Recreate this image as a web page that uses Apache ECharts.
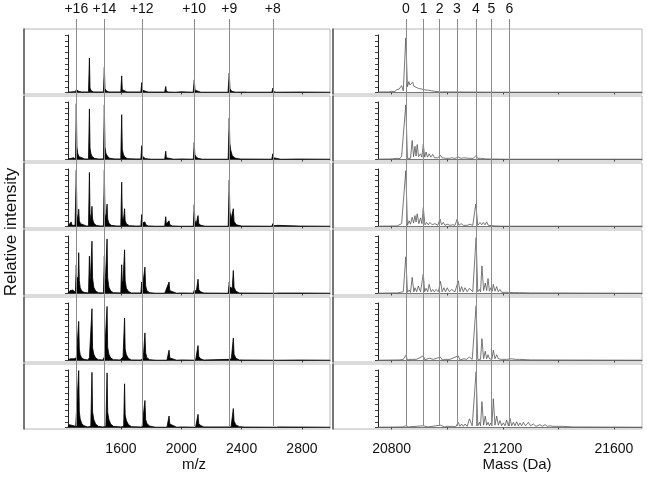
<!DOCTYPE html>
<html><head><meta charset="utf-8">
<script src="https://cdn.jsdelivr.net/npm/echarts@6/dist/echarts.min.js"></script>
<style>html,body{margin:0;padding:0;background:#fff}#c{width:647px;height:480px}</style>
</head><body><div id="c"></div>
<script>
// ---------- annotation / axis data ----------
const chargeLabels = ['+16', '+14', '+12', '+10', '+9', '+8'];
const chargeMz = [1304, 1490, 1738, 2086, 2318, 2607];
const massLabels = ['0', '1', '2', '3', '4', '5', '6'];
const massDa = [20851, 20915, 20973, 21035, 21103, 21159, 21224];
const mzTicks = [1600, 2000, 2400, 2800];
const mzTickLabels = [1600, 2000, 2400, 2800];
const massTicks = [20800, 21000, 21200, 21400, 21600];
const massTickLabels = [20800, 21200, 21600];
const mzRange = [1249, 2986];
const massRange = [20751, 21701];

// ---------- m/z spectra (left column, rows 1..6) ----------
const mzSpectrum1 = [[1249,0.01],[1262,0.02],[1268,0.01],[1278,0.03],[1284,0.015],[1292,0.03],[1298,0.015],[1304,0.05],[1310,0.02],[1320,0.02],[1340,0.01],[1385,0.01],[1391,0.6],[1395,0.08],[1402,0.03],[1420,0.01],[1484,0.01],[1490,0.44],[1494,0.07],[1502,0.03],[1520,0.01],[1599,0.01],[1605,0.29],[1609,0.05],[1617,0.02],[1640,0.01],[1732,0.01],[1738,0.175],[1742,0.04],[1752,0.015],[1780,0.008],[1890,0.008],[1897,0.105],[1901,0.02],[1915,0.008],[1960,0.005],[2000,0.012],[2005,0.005],[2079,0.005],[2086,0.22],[2091,0.04],[2102,0.015],[2130,0.005],[2310,0.005],[2318,0.34],[2323,0.06],[2335,0.02],[2360,0.006],[2420,0.008],[2440,0.005],[2600,0.005],[2607,0.076],[2613,0.015],[2630,0.005],[2780,0.008],[2986,0.005]];
const mzSpectrum2 = [[1249,0.01],[1270,0.02],[1285,0.03],[1295,0.02],[1299,0.01],[1304,0.97],[1308,0.22],[1314,0.1],[1322,0.05],[1335,0.02],[1360,0.01],[1385,0.01],[1391,0.88],[1395,0.2],[1401,0.1],[1410,0.05],[1425,0.02],[1450,0.01],[1484,0.01],[1490,0.95],[1494,0.22],[1500,0.11],[1510,0.06],[1525,0.02],[1560,0.01],[1599,0.01],[1605,0.78],[1609,0.18],[1616,0.09],[1626,0.04],[1645,0.015],[1700,0.01],[1732,0.01],[1738,0.24],[1742,0.07],[1750,0.035],[1765,0.015],[1800,0.005],[1890,0.005],[1897,0.145],[1901,0.03],[1912,0.01],[1950,0.005],[2000,0.01],[2080,0.005],[2086,0.3],[2090,0.09],[2098,0.045],[2112,0.02],[2140,0.005],[2311,0.005],[2318,0.72],[2322,0.28],[2328,0.16],[2338,0.07],[2355,0.025],[2390,0.008],[2420,0.008],[2600,0.005],[2607,0.1],[2612,0.03],[2625,0.01],[2660,0.004],[2780,0.008],[2986,0.005]];
const mzSpectrum3 = [[1249,0.01],[1262,0.03],[1270,0.08],[1276,0.02],[1285,0.04],[1296,0.02],[1304,0.98],[1308,0.22],[1314,0.1],[1320,0.3],[1324,0.1],[1332,0.05],[1345,0.02],[1370,0.01],[1385,0.01],[1391,0.94],[1395,0.22],[1401,0.12],[1408,0.35],[1412,0.13],[1420,0.06],[1435,0.02],[1460,0.01],[1484,0.01],[1490,0.98],[1494,0.23],[1500,0.12],[1508,0.39],[1512,0.13],[1520,0.06],[1535,0.02],[1570,0.01],[1599,0.01],[1605,0.77],[1609,0.18],[1616,0.1],[1624,0.31],[1628,0.1],[1637,0.045],[1655,0.015],[1700,0.008],[1732,0.01],[1738,0.21],[1742,0.06],[1750,0.035],[1759,0.08],[1765,0.03],[1780,0.01],[1830,0.005],[1890,0.005],[1897,0.17],[1901,0.045],[1910,0.03],[1919,0.1],[1924,0.03],[1940,0.01],[1990,0.005],[2000,0.01],[2080,0.005],[2086,0.38],[2090,0.11],[2099,0.05],[2111,0.19],[2116,0.05],[2130,0.02],[2160,0.005],[2311,0.005],[2318,0.81],[2322,0.27],[2330,0.13],[2345,0.31],[2350,0.09],[2365,0.03],[2400,0.008],[2420,0.008],[2600,0.005],[2607,0.05],[2612,0.015],[2638,0.02],[2645,0.005],[2780,0.008],[2986,0.005]];
const mzSpectrum4 = [[1249,0.01],[1262,0.05],[1268,0.02],[1280,0.06],[1290,0.03],[1298,0.02],[1304,0.5],[1307,0.2],[1312,0.28],[1316,0.22],[1320,0.71],[1324,0.22],[1330,0.1],[1340,0.045],[1355,0.02],[1385,0.01],[1391,0.65],[1394,0.22],[1398,0.28],[1403,0.25],[1408,0.91],[1412,0.27],[1420,0.11],[1432,0.045],[1450,0.015],[1484,0.01],[1490,0.65],[1494,0.22],[1498,0.28],[1503,0.27],[1508,0.95],[1512,0.27],[1520,0.11],[1532,0.045],[1550,0.015],[1599,0.01],[1605,0.5],[1609,0.18],[1614,0.22],[1619,0.2],[1624,0.76],[1628,0.22],[1636,0.09],[1650,0.035],[1670,0.01],[1732,0.01],[1738,0.2],[1742,0.09],[1748,0.11],[1754,0.09],[1759,0.46],[1764,0.13],[1772,0.05],[1790,0.015],[1830,0.005],[1890,0.005],[1897,0.05],[1903,0.03],[1910,0.04],[1919,0.2],[1924,0.05],[1935,0.02],[1970,0.005],[2000,0.01],[2080,0.005],[2086,0.06],[2092,0.03],[2100,0.04],[2111,0.25],[2116,0.07],[2128,0.03],[2150,0.008],[2311,0.005],[2318,0.2],[2322,0.11],[2330,0.09],[2338,0.09],[2345,0.4],[2350,0.11],[2362,0.04],[2385,0.01],[2420,0.008],[2630,0.005],[2638,0.03],[2645,0.008],[2780,0.008],[2986,0.005]];
const mzSpectrum5 = [[1249,0.01],[1265,0.03],[1275,0.04],[1290,0.03],[1304,0.05],[1310,0.03],[1320,0.68],[1324,0.2],[1330,0.1],[1340,0.045],[1355,0.02],[1380,0.01],[1391,0.05],[1398,0.03],[1408,0.9],[1412,0.22],[1420,0.11],[1432,0.045],[1450,0.015],[1480,0.01],[1490,0.06],[1498,0.04],[1508,0.94],[1512,0.23],[1520,0.11],[1532,0.045],[1550,0.015],[1595,0.01],[1605,0.04],[1614,0.06],[1624,0.74],[1628,0.2],[1636,0.1],[1650,0.035],[1670,0.01],[1730,0.008],[1738,0.03],[1748,0.04],[1759,0.48],[1764,0.13],[1772,0.05],[1790,0.015],[1830,0.005],[1905,0.005],[1912,0.02],[1919,0.18],[1924,0.045],[1935,0.02],[1970,0.005],[2000,0.01],[2095,0.005],[2104,0.02],[2111,0.26],[2116,0.07],[2128,0.03],[2150,0.008],[2318,0.02],[2332,0.03],[2345,0.39],[2350,0.11],[2362,0.04],[2385,0.01],[2420,0.008],[2630,0.005],[2638,0.02],[2645,0.005],[2780,0.008],[2986,0.005]];
const mzSpectrum6 = [[1249,0.01],[1258,0.05],[1264,0.02],[1272,0.04],[1285,0.03],[1300,0.02],[1310,0.03],[1320,0.99],[1324,0.27],[1330,0.15],[1340,0.07],[1355,0.03],[1380,0.01],[1400,0.02],[1408,0.96],[1412,0.27],[1420,0.14],[1432,0.06],[1450,0.02],[1480,0.01],[1500,0.02],[1508,0.95],[1512,0.27],[1520,0.14],[1532,0.06],[1550,0.02],[1600,0.01],[1618,0.02],[1624,0.76],[1628,0.22],[1636,0.12],[1650,0.05],[1670,0.015],[1740,0.008],[1752,0.015],[1759,0.47],[1764,0.14],[1772,0.07],[1790,0.025],[1830,0.005],[1905,0.005],[1912,0.015],[1919,0.2],[1924,0.06],[1935,0.03],[1970,0.005],[2000,0.01],[2095,0.005],[2104,0.015],[2111,0.23],[2116,0.07],[2128,0.035],[2150,0.01],[2330,0.01],[2345,0.33],[2350,0.11],[2362,0.045],[2385,0.015],[2420,0.008],[2630,0.005],[2638,0.03],[2645,0.01],[2780,0.008],[2986,0.005]];

// ---------- deconvoluted mass spectra (right column, rows 1..6) ----------
const massSpectrum1 = [[20751,0.01],[20790,0.01],[20800,0.02],[20806,0.03],[20812,0.015],[20818,0.05],[20822,0.02],[20827,0.06],[20831,0.03],[20836,0.12],[20842,0.03],[20851,0.95],[20857,0.1],[20862,0.19],[20866,0.13],[20868,0.15],[20872,0.12],[20876,0.18],[20880,0.11],[20884,0.13],[20888,0.09],[20892,0.12],[20897,0.07],[20902,0.09],[20908,0.06],[20914,0.065],[20920,0.045],[20926,0.06],[20932,0.04],[20938,0.05],[20944,0.03],[20950,0.035],[20956,0.02],[20962,0.02],[20975,0.01],[21000,0.01],[21200,0.005],[21701,0.005]];
const massSpectrum2 = [[20751,0.005],[20800,0.01],[20820,0.02],[20830,0.015],[20836,0.06],[20842,0.03],[20851,0.95],[20857,0.02],[20863,0.05],[20868,0.02],[20874,0.33],[20879,0.05],[20884,0.23],[20888,0.06],[20892,0.26],[20897,0.05],[20904,0.1],[20909,0.04],[20914,0.27],[20919,0.04],[20924,0.13],[20929,0.04],[20935,0.1],[20941,0.04],[20948,0.09],[20954,0.03],[20960,0.06],[20966,0.03],[20976,0.07],[20982,0.03],[20988,0.04],[20994,0.02],[21000,0.03],[21008,0.02],[21016,0.03],[21028,0.02],[21040,0.04],[21050,0.02],[21060,0.03],[21080,0.02],[21094,0.02],[21104,0.07],[21110,0.02],[21120,0.02],[21140,0.01],[21200,0.005],[21701,0.005]];
const massSpectrum3 = [[20751,0.005],[20820,0.01],[20836,0.05],[20842,0.02],[20851,0.97],[20857,0.02],[20863,0.1],[20868,0.04],[20874,0.16],[20879,0.06],[20884,0.19],[20888,0.08],[20892,0.22],[20898,0.05],[20904,0.15],[20909,0.05],[20914,0.33],[20920,0.03],[20926,0.07],[20932,0.03],[20938,0.07],[20946,0.03],[20956,0.05],[20966,0.02],[20974,0.13],[20980,0.03],[20986,0.07],[20992,0.02],[21000,0.04],[21010,0.02],[21020,0.03],[21028,0.02],[21036,0.13],[21042,0.02],[21050,0.05],[21058,0.02],[21064,0.03],[21072,0.02],[21082,0.04],[21092,0.02],[21103,0.39],[21110,0.02],[21118,0.07],[21124,0.03],[21130,0.07],[21136,0.03],[21142,0.08],[21148,0.02],[21154,0.02],[21172,0.01],[21200,0.005],[21701,0.005]];
const massSpectrum4 = [[20751,0.005],[20820,0.01],[20842,0.03],[20851,0.64],[20857,0.02],[20863,0.06],[20868,0.02],[20874,0.28],[20880,0.03],[20884,0.1],[20890,0.03],[20896,0.13],[20904,0.03],[20914,0.34],[20919,0.03],[20924,0.09],[20930,0.03],[20935,0.16],[20942,0.03],[20948,0.07],[20954,0.03],[20960,0.07],[20968,0.03],[20976,0.21],[20982,0.03],[20988,0.1],[20994,0.03],[21000,0.1],[21008,0.03],[21016,0.07],[21028,0.03],[21040,0.22],[21046,0.03],[21052,0.12],[21058,0.03],[21064,0.1],[21072,0.03],[21080,0.09],[21092,0.03],[21104,0.97],[21110,0.03],[21116,0.07],[21120,0.03],[21125,0.48],[21131,0.05],[21137,0.18],[21142,0.05],[21147,0.26],[21152,0.04],[21157,0.1],[21162,0.04],[21166,0.16],[21172,0.04],[21178,0.12],[21184,0.03],[21190,0.07],[21196,0.02],[21202,0.05],[21208,0.02],[21214,0.04],[21220,0.02],[21226,0.03],[21240,0.015],[21260,0.015],[21300,0.01],[21701,0.005]];
const massSpectrum5 = [[20751,0.005],[20830,0.01],[20842,0.02],[20851,0.09],[20857,0.01],[20870,0.02],[20890,0.02],[20914,0.08],[20920,0.01],[20935,0.04],[20950,0.02],[20976,0.06],[20982,0.01],[20995,0.02],[21010,0.02],[21040,0.08],[21046,0.01],[21060,0.03],[21070,0.02],[21080,0.06],[21090,0.02],[21104,0.95],[21110,0.02],[21116,0.05],[21120,0.02],[21125,0.38],[21131,0.03],[21137,0.16],[21142,0.03],[21147,0.1],[21152,0.03],[21157,0.06],[21161,0.02],[21166,0.18],[21172,0.03],[21178,0.1],[21184,0.03],[21190,0.05],[21196,0.02],[21202,0.03],[21214,0.02],[21230,0.03],[21245,0.02],[21260,0.02],[21300,0.01],[21701,0.005]];
const massSpectrum6 = [[20751,0.005],[20840,0.01],[20851,0.03],[20860,0.01],[20914,0.03],[20930,0.01],[20976,0.04],[20990,0.01],[21000,0.02],[21020,0.02],[21030,0.01],[21040,0.09],[21046,0.02],[21052,0.06],[21058,0.02],[21064,0.06],[21072,0.02],[21080,0.15],[21090,0.03],[21104,0.97],[21110,0.03],[21116,0.09],[21120,0.03],[21125,0.45],[21131,0.04],[21137,0.2],[21142,0.04],[21147,0.09],[21152,0.03],[21157,0.08],[21161,0.03],[21166,0.5],[21172,0.04],[21178,0.2],[21184,0.04],[21190,0.12],[21196,0.03],[21202,0.08],[21208,0.03],[21214,0.13],[21220,0.03],[21226,0.16],[21232,0.03],[21238,0.09],[21244,0.03],[21250,0.1],[21256,0.03],[21262,0.08],[21268,0.03],[21274,0.09],[21282,0.03],[21292,0.09],[21300,0.03],[21310,0.06],[21320,0.02],[21334,0.05],[21342,0.02],[21352,0.05],[21360,0.02],[21370,0.03],[21380,0.02],[21394,0.02],[21418,0.02],[21450,0.01],[21701,0.005]];

const leftSpectra = [mzSpectrum1, mzSpectrum2, mzSpectrum3, mzSpectrum4, mzSpectrum5, mzSpectrum6];
const rightSpectra = [massSpectrum1, massSpectrum2, massSpectrum3, massSpectrum4, massSpectrum5, massSpectrum6];

// ---------- build ----------
const FONT = '"Liberation Sans", Arial, sans-serif';
const grids = [], xAxes = [], yAxes = [], series = [];
function addGrid(g, x, y) {
  grids.push(Object.assign({ outerBoundsMode: 'none', containLabel: false }, g));
  const i = grids.length - 1;
  xAxes.push(Object.assign({ gridIndex: i }, x));
  yAxes.push(Object.assign({ gridIndex: i }, y));
  return i;
}
const rowTop = r => 29 + 67 * r;
const cols = [
  { frameLeft: 24, frameW: 306, left: 68, width: 262, range: mzRange, ticks: mzTicks, labels: mzTickLabels,
    name: 'm/z', spectra: leftSpectra, area: true, namePad: [0, 10, 0, 0],
    lines: chargeMz, lineLabels: chargeLabels },
  { frameLeft: 333, frameW: 309, left: 378, width: 264, range: massRange, ticks: massTicks, labels: massTickLabels,
    name: 'Mass (Da)', spectra: rightSpectra, area: false, namePad: [0, 0, 0, 14],
    lines: massDa, lineLabels: massLabels }
];
cols.forEach(col => {
  // vertical reference lines with their labels
  const og = addGrid({ left: col.left, top: 19, width: col.width, height: 407 },
    { type: 'value', min: col.range[0], max: col.range[1], show: false },
    { type: 'value', min: 0, max: 1, show: false });
  series.push({
    type: 'line', xAxisIndex: og, yAxisIndex: og, data: [], z: 1, silent: true, animation: false,
    markLine: {
      symbol: 'none', silent: true, animation: false,
      lineStyle: { color: '#8c8c8c', width: 1, type: 'solid' },
      label: { show: true, position: 'end', distance: 3, formatter: p => p.name,
               fontSize: 14, color: '#111', fontFamily: FONT },
      data: col.lines.map((v, i) => ({ xAxis: v, name: col.lineLabels[i] }))
    }
  });
  for (let r = 0; r < 6; r++) {
    const top = rowTop(r);
    addGrid({ left: col.frameLeft, top: top, width: col.frameW, height: 65, show: true,
              borderColor: '#b8b8b8', borderWidth: 1, backgroundColor: 'transparent' },
      { type: 'value', min: 0, max: 1, show: false },
      { type: 'value', min: 0, max: 1, axisLine: { show: true, lineStyle: { color: '#555', width: 1.5 } },
        axisTick: { show: false }, axisLabel: { show: false }, splitLine: { show: false } });
    const last = r === 5;
    const gi = addGrid({ left: col.left, top: top + 6, width: col.width, height: 57.5 },
      { type: 'value', min: col.range[0], max: col.range[1],
        axisLine: { show: true, onZero: false, lineStyle: { color: '#777', width: 1 } },
        axisTick: { show: true, customValues: col.ticks, length: 2, lineStyle: { color: '#444' } },
        axisLabel: { show: last, customValues: col.labels, margin: 15, fontSize: 14, color: '#111',
                     fontFamily: FONT, formatter: v => String(v) },
        splitLine: { show: false },
        name: last ? col.name : '', nameLocation: 'middle', nameGap: 29,
        nameTextStyle: { fontSize: 15, color: '#111', fontFamily: FONT, padding: col.namePad } },
      { type: 'value', min: 0, max: 1, interval: 0.1,
        axisLine: { show: true, lineStyle: { color: '#222', width: 1 } },
        axisTick: { show: true, length: 3, lineStyle: { color: '#444' } },
        axisLabel: { show: false }, splitLine: { show: false } });
    series.push({
      type: 'line', xAxisIndex: gi, yAxisIndex: gi, data: col.spectra[r], symbol: 'none', showSymbol: false,
      silent: true, animation: false, z: 3,
      lineStyle: { color: col.area ? '#000' : '#555', width: col.area ? 0.8 : 0.8 },
      areaStyle: col.area ? { color: '#000', opacity: 1 } : undefined
    });
  }
});

const chart = echarts.init(document.getElementById('c'), null, { renderer: 'canvas' });
chart.setOption({
  animation: false,
  backgroundColor: '#fff',
  grid: grids, xAxis: xAxes, yAxis: yAxes, series: series,
  graphic: [{
    type: 'text', x: 11, y: 232, rotation: Math.PI / 2,
    style: { text: 'Relative intensity', font: '17px "Liberation Sans", Arial, sans-serif',
             fill: '#111', align: 'center', verticalAlign: 'middle' }
  }]
});
</script></body></html>
